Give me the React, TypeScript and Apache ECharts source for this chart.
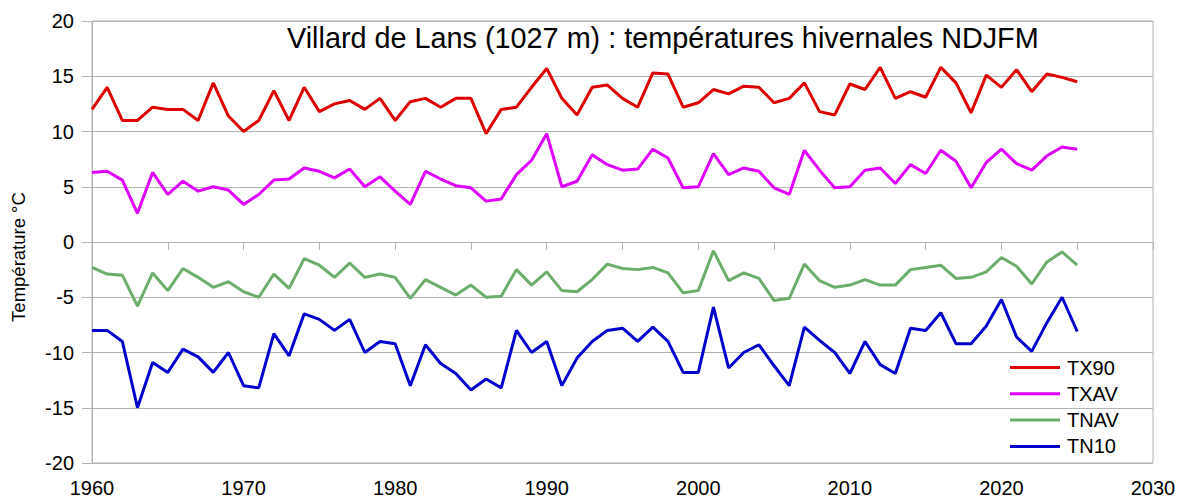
import React, { useEffect, useRef } from "react";
import * as echarts from "echarts";

const years: number[] = [];
for (let y = 1960; y <= 2025; y++) years.push(y);

const tx90 = [
  12, 14, 11, 11, 12.2, 12, 12, 11, 14.4, 11.4,
  10, 11, 13.7, 11, 14, 11.8, 12.5, 12.8, 12, 13,
  11, 12.7, 13, 12.2, 13, 13, 9.8, 12, 12.2, 14,
  15.7, 13, 11.5, 14, 14.2, 13, 12.2, 15.3, 15.2, 12.2,
  12.6, 13.8, 13.4, 14.1, 14, 12.6, 13, 14.4, 11.8, 11.5,
  14.3, 13.8, 15.8, 13, 13.6, 13.1, 15.8, 14.4, 11.7, 15.1,
  14, 15.6, 13.6, 15.2, 14.9, 14.5,
];
const txav = [
  6.3, 6.4, 5.6, 2.6, 6.3, 4.3, 5.5, 4.6, 5, 4.7,
  3.4, 4.3, 5.6, 5.7, 6.7, 6.4, 5.8, 6.6, 5, 5.9,
  4.6, 3.4, 6.4, 5.7, 5.1, 4.9, 3.7, 3.9, 6.1, 7.4,
  9.8, 5, 5.5, 7.9, 7, 6.5, 6.6, 8.4, 7.6, 4.9,
  5, 8, 6.1, 6.7, 6.4, 4.9, 4.3, 8.3, 6.5, 4.9,
  5, 6.5, 6.7, 5.3, 7, 6.2, 8.3, 7.3, 4.9, 7.2,
  8.4, 7.1, 6.5, 7.8, 8.6, 8.4,
];
const tnav = [
  -2.3, -2.9, -3, -5.8, -2.8, -4.4, -2.4, -3.2, -4.1, -3.6,
  -4.5, -5, -2.9, -4.2, -1.5, -2.1, -3.2, -1.9, -3.2, -2.9,
  -3.2, -5.1, -3.4, -4.1, -4.8, -3.9, -5, -4.9, -2.5, -3.9,
  -2.7, -4.4, -4.5, -3.4, -2, -2.4, -2.5, -2.3, -2.8, -4.6,
  -4.4, -0.8, -3.5, -2.8, -3.3, -5.3, -5.1, -2, -3.5, -4.1,
  -3.9, -3.4, -3.9, -3.9, -2.5, -2.3, -2.1, -3.3, -3.2, -2.7,
  -1.4, -2.2, -3.8, -1.8, -0.9, -2.1,
];
const tn10 = [
  -8, -8, -9, -15, -10.9, -11.8, -9.7, -10.4, -11.8, -10,
  -13, -13.2, -8.3, -10.3, -6.5, -7, -8, -7, -10, -9,
  -9.2, -13, -9.3, -11, -11.9, -13.4, -12.4, -13.2, -8, -10,
  -9, -13, -10.5, -9, -8, -7.8, -9, -7.7, -9, -11.8,
  -11.8, -5.9, -11.4, -10, -9.3, -11.2, -13, -7.7, -8.9, -10,
  -11.9, -9, -11.1, -11.9, -7.8, -8, -6.4, -9.2, -9.2, -7.6,
  -5.2, -8.6, -9.9, -7.3, -5, -8.1,
];

const seriesNames = ["TX90", "TXAV", "TNAV", "TN10"];
const seriesColors = ["#dd0000", "#dd00ff", "#6aae6a", "#0000cc"];
const seriesData = [tx90, txav, tnav, tn10];

const titleText = "Villard de Lans (1027 m) : températures hivernales NDJFM";
const yAxisTitle = "Température °C";

const FONT = "'Liberation Sans', Arial, sans-serif";

export default function App() {
  const ref = useRef<HTMLDivElement>(null);
  useEffect(() => {
    if (!ref.current) return;
    const chart = echarts.init(ref.current, undefined, { renderer: "svg" });
    chart.setOption({
      animation: false,
      backgroundColor: "#ffffff",
      textStyle: { fontFamily: FONT },
      title: {
        text: titleText,
        left: 287,
        top: 23,
        padding: 0,
        textStyle: { fontFamily: FONT, fontSize: 28.8, fontWeight: "normal", color: "#000" },
      },
      graphic: [
        {
          type: "text",
          x: 18,
          y: 257,
          rotation: Math.PI / 2,
          style: {
            text: yAxisTitle,
            fontFamily: FONT,
            fontSize: 18.5,
            fill: "#000",
            align: "center",
            verticalAlign: "middle",
          },
        },
      ],
      legend: {
        orient: "vertical",
        left: 1010,
        top: 357.5,
        padding: 0,
        itemWidth: 50,
        itemHeight: 3,
        itemGap: 6.3,
        icon: "rect",
        data: seriesNames,
        textStyle: { fontFamily: FONT, fontSize: 20, lineHeight: 20, color: "#000", padding: [0, 0, 0, 2] },
      },
      grid: {
        left: 92,
        right: 27,
        top: 21,
        bottom: 36,
        show: true,
        borderColor: "#b3b3b3",
        borderWidth: 1,
      },
      xAxis: {
        type: "value",
        min: 1960,
        max: 2030,
        interval: 5,
        axisLine: { show: true, lineStyle: { color: "#b3b3b3" } },
        axisTick: { show: true, length: 8, lineStyle: { color: "#b3b3b3" } },
        splitLine: { show: false },
        axisLabel: {
          fontFamily: FONT,
          fontSize: 20,
          color: "#000",
          margin: 15,
          formatter: (v: number) => (v % 10 === 0 ? String(v) : ""),
        },
      },
      yAxis: {
        type: "value",
        min: -20,
        max: 20,
        interval: 5,
        axisLine: { show: true, lineStyle: { color: "#b3b3b3" } },
        axisTick: { show: true, length: 10, lineStyle: { color: "#b3b3b3" } },
        splitLine: { show: true, lineStyle: { color: "#b3b3b3", width: 1 } },
        axisLabel: { fontFamily: FONT, fontSize: 20, color: "#000", margin: 18 },
      },
      series: seriesNames.map((name, k) => ({
        name,
        type: "line",
        data: years.map((y, i) => [y, seriesData[k][i]]),
        showSymbol: false,
        symbol: "none",
        lineStyle: { color: seriesColors[k], width: 3 },
        itemStyle: { color: seriesColors[k] },
      })),
    });
    return () => chart.dispose();
  }, []);
  return <div ref={ref} style={{ width: 1180, height: 499, position: "absolute", left: 0, top: 0 }} />;
}
